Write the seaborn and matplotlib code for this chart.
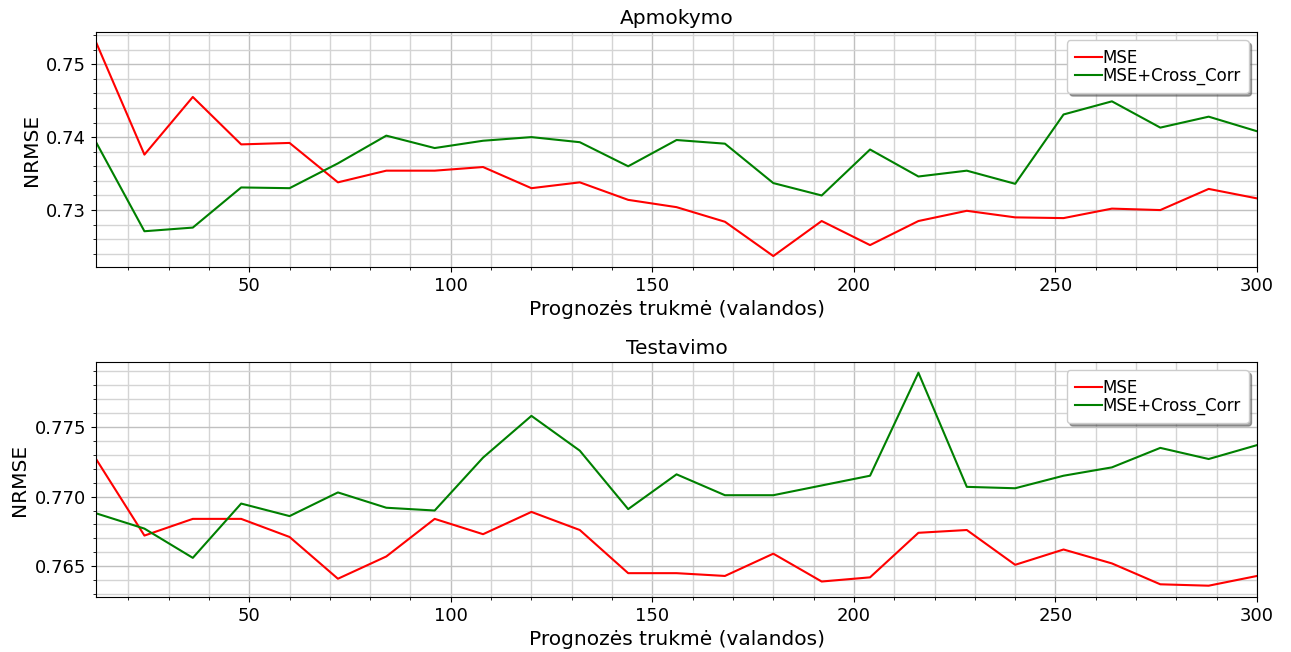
import numpy as np
import pandas as pd
import matplotlib
matplotlib.use("Agg")
import matplotlib.pyplot as plt
import seaborn as sns

# forecast horizon (hours)
hours = list(range(12, 301, 12))

# training (Apmokymo)
train_mse = [0.7530, 0.7376, 0.7455, 0.7390, 0.7392, 0.7338, 0.7354, 0.7354, 0.7359, 0.7330,
             0.7338, 0.7314, 0.7304, 0.7284, 0.7237, 0.7285, 0.7252, 0.7285, 0.7299, 0.7290,
             0.7289, 0.7302, 0.7300, 0.7329, 0.7316]
train_cc = [0.7393, 0.7271, 0.7276, 0.7331, 0.7330, 0.7364, 0.7402, 0.7385, 0.7395, 0.7400,
            0.7393, 0.7360, 0.7396, 0.7391, 0.7337, 0.7320, 0.7383, 0.7346, 0.7354, 0.7336,
            0.7431, 0.7449, 0.7413, 0.7428, 0.7408]

# testing (Testavimo)
test_mse = [0.7727, 0.7672, 0.7684, 0.7684, 0.7671, 0.7641, 0.7657, 0.7684, 0.7673, 0.7689,
            0.7676, 0.7645, 0.7645, 0.7643, 0.7659, 0.7639, 0.7642, 0.7674, 0.7676, 0.7651,
            0.7662, 0.7652, 0.7637, 0.7636, 0.7643]
test_cc = [0.7688, 0.7677, 0.7656, 0.7695, 0.7686, 0.7703, 0.7692, 0.7690, 0.7728, 0.7758,
           0.7733, 0.7691, 0.7716, 0.7701, 0.7701, 0.7708, 0.7715, 0.7789, 0.7707, 0.7706,
           0.7715, 0.7721, 0.7735, 0.7727, 0.7737]

series_names = ["MSE", "MSE+Cross_Corr"]
titles = ["Apmokymo", "Testavimo"]
colors = {"MSE": "red", "MSE+Cross_Corr": "green"}

fig = plt.figure(figsize=(12.91, 6.52), dpi=100)
ax1 = fig.add_axes([0.0744, 0.5905, 0.8993, 0.3604])
ax2 = fig.add_axes([0.0744, 0.0844, 0.8993, 0.3604])

for ax, title, (a, b) in zip([ax1, ax2], titles, [(train_mse, train_cc), (test_mse, test_cc)]):
    df = pd.DataFrame({
        "hours": hours * 2,
        "NRMSE": a + b,
        "model": [series_names[0]] * len(a) + [series_names[1]] * len(b),
    })
    sns.lineplot(data=df, x="hours", y="NRMSE", hue="model", palette=colors,
                 linewidth=1.5, ax=ax, legend=False)
    ax.set_xlim(12, 300)
    ax.minorticks_on()
    # grid on major and minor ticks
    ax.grid(which="major", color="#c0c0c0", linewidth=1.0)
    ax.grid(which="minor", color="#d4d4d4", linewidth=1.0)
    ax.set_axisbelow(True)
    ax.set_title(title, fontsize=14.5)
    ax.set_xlabel("Prognozės trukmė (valandos)", fontsize=14.5)
    ax.set_ylabel("NRMSE", fontsize=14.5)
    ax.tick_params(labelsize=13)
    ax.legend(handles=ax.get_lines()[:2], labels=series_names, loc="upper right",
              fontsize=12, shadow=True, handlelength=1.6, handletextpad=0.0,
              labelspacing=0.0, borderpad=0.5, framealpha=1)

ax1.set_ylim(0.7222, 0.7544)
ax2.set_ylim(0.76279, 0.77967)

fig.savefig("out.png", dpi=100)
